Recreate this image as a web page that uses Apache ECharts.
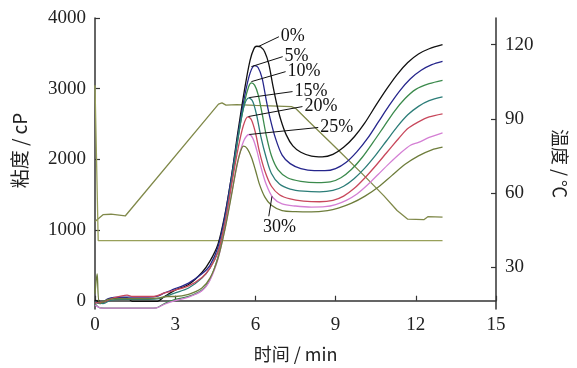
<!DOCTYPE html>
<html>
<head>
<meta charset="utf-8">
<script src="https://cdn.jsdelivr.net/npm/echarts@6/dist/echarts.min.js"></script>
<style>
  html, body { margin: 0; padding: 0; background: #fff; }
  #chart { width: 577px; height: 368px; }
</style>
</head>
<body>
<div id="chart"></div>
<script>
// viscosity curves, [time min, viscosity cP]
const visc0 = [[0,10],[0.25,-30],[0.6,30],[1.2,40],[1.4,-10],[2.3,-10],[2.6,60],[3,150],[3.5,230],[4,400],[4.3,560],[4.6,800],[4.85,1200],[5.1,1750],[5.35,2400],[5.6,3000],[5.8,3400],[5.95,3570],[6.05,3600],[6.2,3590],[6.35,3520],[6.5,3350],[6.65,3050],[6.8,2780],[6.95,2560],[7.15,2350],[7.4,2190],[7.7,2100],[8.1,2045],[8.5,2035],[8.9,2070],[9.3,2170],[9.7,2320],[10.1,2520],[10.5,2760],[10.9,2990],[11.3,3200],[11.7,3370],[12.1,3490],[12.5,3565],[13,3622]];
const visc5 = [[0,-20],[0.2,-40],[0.5,30],[1,50],[1.5,50],[2,50],[2.3,60],[2.6,110],[3,170],[3.5,250],[4,380],[4.3,500],[4.6,760],[4.85,1180],[5.1,1740],[5.35,2350],[5.6,2900],[5.8,3220],[5.97,3326],[6.1,3300],[6.25,3150],[6.4,2850],[6.55,2580],[6.75,2300],[7,2060],[7.3,1940],[7.7,1870],[8.2,1840],[8.6,1840],[9,1870],[9.4,1960],[9.8,2110],[10.2,2300],[10.6,2530],[11,2760],[11.4,2970],[11.8,3140],[12.2,3260],[12.6,3340],[13,3387]];
const visc10 = [[0,-40],[0.2,-100],[1,-105],[2,-105],[2.3,-100],[2.6,-40],[3,20],[3.5,60],[4,150],[4.3,300],[4.6,620],[4.85,1050],[5.1,1650],[5.35,2300],[5.6,2820],[5.75,3030],[5.85,3082],[5.97,3050],[6.1,2920],[6.25,2650],[6.4,2350],[6.6,2050],[6.85,1850],[7.2,1740],[7.7,1690],[8.3,1670],[8.8,1680],[9.2,1740],[9.6,1860],[10,2030],[10.4,2240],[10.8,2460],[11.2,2680],[11.6,2860],[12,2990],[12.5,3070],[13,3118]];
const visc15 = [[0,-20],[0.3,-40],[0.6,10],[1,20],[2,20],[2.4,30],[2.7,70],[3,110],[3.5,180],[4,320],[4.3,460],[4.6,700],[4.85,1100],[5.1,1680],[5.35,2300],[5.55,2720],[5.75,2870],[5.9,2820],[6.05,2620],[6.2,2330],[6.4,2030],[6.6,1800],[6.9,1650],[7.3,1580],[7.8,1550],[8.4,1540],[8.9,1560],[9.3,1620],[9.7,1730],[10.1,1880],[10.5,2060],[10.9,2260],[11.3,2460],[11.7,2630],[12.1,2750],[12.5,2830],[13,2884]];
const visc20 = [[0,-30],[0.3,-20],[0.7,40],[1.2,80],[1.4,60],[2.2,60],[2.6,110],[3,150],[3.5,210],[4,330],[4.3,460],[4.6,690],[4.85,1080],[5.1,1620],[5.35,2150],[5.55,2480],[5.72,2602],[5.85,2560],[6,2380],[6.15,2110],[6.35,1840],[6.6,1620],[6.9,1500],[7.3,1440],[7.8,1410],[8.4,1400],[8.9,1420],[9.3,1480],[9.7,1590],[10.1,1740],[10.5,1910],[10.9,2090],[11.3,2270],[11.6,2400],[11.75,2450],[12.1,2530],[12.5,2600],[13,2644]];
const visc25 = [[0,-60],[0.25,-105],[1,-105],[2,-105],[2.3,-100],[2.6,-50],[3,0],[3.5,50],[4,140],[4.3,290],[4.6,590],[4.85,1000],[5.1,1500],[5.35,1980],[5.55,2250],[5.76,2352],[5.9,2300],[6.05,2130],[6.2,1900],[6.4,1650],[6.65,1460],[7,1370],[7.5,1340],[8.1,1325],[8.6,1330],[9,1360],[9.4,1420],[9.8,1510],[10.2,1640],[10.6,1790],[11,1940],[11.4,2080],[11.8,2200],[12.1,2240],[12.5,2310],[13,2376]];
const visc30 = [[0,100],[0.08,380],[0.18,-40],[0.5,20],[1,30],[2,30],[2.4,40],[2.7,60],[3,60],[3.5,90],[4,180],[4.3,320],[4.6,600],[4.85,990],[5.1,1480],[5.3,1900],[5.45,2120],[5.56,2187],[5.7,2150],[5.85,2030],[6,1850],[6.15,1650],[6.35,1470],[6.6,1350],[7,1275],[7.5,1260],[8.1,1256],[8.7,1275],[9.1,1310],[9.6,1380],[10.1,1480],[10.6,1610],[11.1,1770],[11.6,1930],[12.1,2050],[12.6,2135],[13,2173]];

// temperature profile, [time min, deg C]
const tempProfile = [[0,48.6],[0.3,51.3],[0.6,51.5],[1.13,50.8],[4.62,96],[4.75,96.5],[4.9,95.6],[5.3,95.8],[6,95.5],[7.35,95],[7.5,94.3],[8,89],[9,78.5],[10,67.8],[10.8,59],[11.3,53],[11.7,49.5],[12.3,49.3],[12.45,50.5],[13,50.3]];
// paddle speed trace drawn on the viscosity scale
const speedTrace = [[0,3050],[0.12,850],[13,850]];

const names = ['0%', '5%', '10%', '15%', '20%', '25%', '30%'];
const curves = [visc0, visc5, visc10, visc15, visc20, visc25, visc30];
const colors = ['#111111', '#26268c', '#3b8a4c', '#2c7d78', '#c8485c', '#d47fd4', '#6e7d3c'];
// leader lines: point on the curve -> label end
const tags = [
  [[6.1, 3594], [6.88, 3735]],
  [[5.85, 3312], [7.02, 3453]],
  [[5.85, 3100], [7.13, 3241]],
  [[5.77, 2874], [7.39, 2959]],
  [[5.74, 2606], [7.76, 2747]],
  [[5.77, 2352], [8.35, 2451]],
  [[6.62, 1477], [6.5, 1195]]
];

const serif = '"Liberation Serif", "Times New Roman", serif';
const cjk = '"Noto Sans CJK SC", "Liberation Serif", serif';

var chart = echarts.init(document.getElementById('chart'));

var series = curves.map(function (c, i) {
  return {
    name: names[i],
    type: 'line',
    data: c,
    showSymbol: false,
    smooth: 0.3,
    lineStyle: {color: colors[i], width: 1.3},
    z: 3,
    markLine: {
      silent: true,
      symbol: ['none', 'none'],
      lineStyle: {color: '#111', width: 1, type: 'solid'},
      label: {
        show: true,
        position: 'end',
        distance: 2,
        formatter: names[i],
        color: '#111',
        fontSize: 18,
        fontFamily: serif,
        // the 30% tag sits a bit right of its leader
        padding: i === 6 ? [0, 0, 0, 22] : 0
      },
      data: [[{coord: tags[i][0]}, {coord: tags[i][1]}]]
    }
  };
});

series.push({
  name: 'temp',
  type: 'line',
  yAxisIndex: 1,
  data: tempProfile,
  showSymbol: false,
  lineStyle: {color: '#80894a', width: 1.3},
  z: 2
});
series.push({
  name: 'speed',
  type: 'line',
  data: speedTrace,
  showSymbol: false,
  lineStyle: {color: '#98a05a', width: 1.3},
  z: 2
});

var plain = function (v) { return String(v); };

var option = {
  animation: false,
  backgroundColor: '#fff',
  grid: {left: 95, right: 73, top: 18, bottom: 58, containLabel: false},
  xAxis: {
    type: 'value',
    min: 0,
    max: 15,
    interval: 3,
    name: '时间 / min',
    nameLocation: 'middle',
    nameGap: 36,
    nameTextStyle: {fontSize: 18, color: '#222', fontFamily: cjk},
    axisLine: {lineStyle: {color: '#333', width: 1.5}},
    axisTick: {inside: true, length: 5, lineStyle: {color: '#333', width: 1.2}},
    axisLabel: {fontSize: 19, color: '#222', fontFamily: serif, margin: 7, formatter: plain},
    splitLine: {show: false}
  },
  yAxis: [{
    type: 'value',
    min: -117,
    max: 4000,
    name: '粘度 / cP',
    nameLocation: 'middle',
    nameGap: 66,
    nameTextStyle: {fontSize: 19, color: '#222', fontFamily: cjk, padding: [0, 0, 0, 26]},
    axisLine: {show: true, onZero: false, lineStyle: {color: '#333', width: 1.5}},
    axisTick: {inside: true, length: 5, customValues: [0, 1000, 2000, 3000, 4000], lineStyle: {color: '#333', width: 1.2}},
    axisLabel: {fontSize: 19, color: '#222', fontFamily: serif, margin: 9, formatter: plain, customValues: [0, 1000, 2000, 3000, 4000]},
    splitLine: {show: false}
  }, {
    type: 'value',
    position: 'right',
    min: 13.2,
    max: 130.8,
    name: '温度 / ℃',
    nameLocation: 'middle',
    nameGap: 55,
    nameRotate: -90,
    nameTextStyle: {fontSize: 18, color: '#222', fontFamily: cjk},
    axisLine: {show: true, onZero: false, lineStyle: {color: '#333', width: 1.5}},
    axisTick: {inside: true, length: 5, customValues: [30, 60, 90, 120], lineStyle: {color: '#333', width: 1.2}},
    axisLabel: {fontSize: 19, color: '#222', fontFamily: serif, margin: 9, formatter: plain, customValues: [30, 60, 90, 120]},
    splitLine: {show: false}
  }],
  series: series
};

chart.setOption(option);
</script>
</body>
</html>
